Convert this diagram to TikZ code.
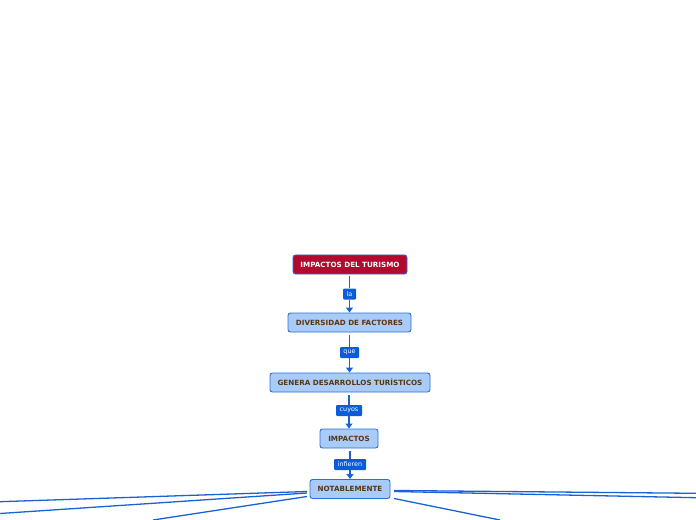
\documentclass[tikz,border=0pt]{standalone}
\usepackage{fontspec}
\setmainfont{DejaVu Sans}
\usetikzlibrary{arrows.meta}
\definecolor{lineblue}{HTML}{1A62D4}
\definecolor{nodefill}{HTML}{A8CBF9}
\definecolor{nodeborder}{HTML}{2A70DA}
\definecolor{redfill}{HTML}{B2092E}
\definecolor{brown}{HTML}{5A3511}
\definecolor{labfill}{HTML}{0A5CD8}
\begin{document}
\begin{tikzpicture}[x=1bp,y=-1bp,
  concept/.style={draw=nodeborder,line width=0.9bp,fill=nodefill,rounded corners=2.5bp,
    font=\fontsize{7.2}{8}\selectfont\bfseries,text=brown,inner sep=0pt,minimum height=19bp},
  rootbox/.style={concept,fill=redfill,text=white},
  linklab/.style={fill=labfill,text=white,font=\fontsize{6.4}{7}\selectfont,inner sep=0pt,
    minimum height=11bp,rounded corners=1bp},
  conn/.style={draw=lineblue,line width=1.3bp},
  arr/.style={conn,-{Triangle[length=5bp,width=7bp]}}]
\useasboundingbox (0,0) rectangle (696,520);
\node[rootbox,minimum width=114bp] (root) at (350,264.5) {IMPACTOS DEL TURISMO};
\node[concept,minimum width=123bp] (div) at (349.5,322.5) {DIVERSIDAD DE FACTORES};
\node[concept,minimum width=160bp] (gen) at (350,382.5) {GENERA DESARROLLOS TURÍSTICOS};
\node[concept,minimum width=58bp] (imp) at (349,438.5) {IMPACTOS};
\node[concept,minimum width=80bp] (not) at (350,489) {NOTABLEMENTE};
\node[linklab,minimum width=13bp] (l1) at (349.5,294) {la};
\node[linklab,minimum width=19bp] (l2) at (349.5,352.5) {que};
\node[linklab,minimum width=26bp] (l3) at (349,410.5) {cuyos};
\node[linklab,minimum width=32bp] (l4) at (350,464.5) {infieren};
\draw[conn] ([yshift=-2bp]root.south -| l1) -- (l1.north);
\draw[arr] (l1.south) -- (div.north -| l1);
\draw[conn] ([yshift=-3bp]div.south -| l2) -- (l2.north);
\draw[arr] (l2.south) -- (gen.north -| l2);
\draw[conn] ([yshift=-3bp]gen.south -| l3) -- (l3.north);
\draw[arr] (l3.south) -- (imp.north -| l3);
\draw[conn] ([yshift=-3bp]imp.south -| l4) -- (l4.north);
\draw[arr] (l4.south) -- (not.north -| l4);
\coordinate (e1) at (0,501.7);
\coordinate (e2) at (0,513.5);
\coordinate (e3) at (153,520);
\coordinate (e4) at (696,493.3);
\coordinate (e5) at (696,497.7);
\coordinate (e6) at (500,520);
\coordinate (s1) at (307,491.5);
\coordinate (s2) at (307,493);
\coordinate (s3) at (307,496.5);
\coordinate (s4) at (394,490.5);
\coordinate (s5) at (394,491.5);
\coordinate (s6) at (394,498.5);
\draw[conn] (s1) -- (e1);
\draw[conn] (s2) -- (e2);
\draw[conn] (s3) -- (e3);
\draw[conn] (s4) -- (e4);
\draw[conn] (s5) -- (e5);
\draw[conn] (s6) -- (e6);
\end{tikzpicture}
\end{document}
